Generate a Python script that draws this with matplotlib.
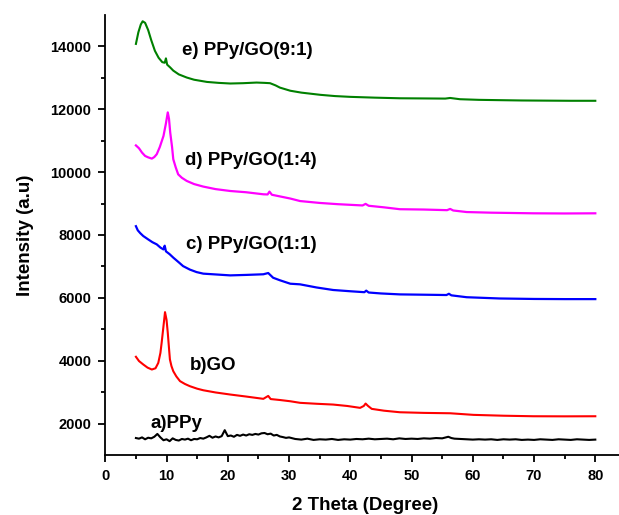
import matplotlib
matplotlib.use("Agg")
import matplotlib.pyplot as plt
from matplotlib.ticker import MultipleLocator

plt.rcParams["font.family"] = ["Liberation Sans", "DejaVu Sans"]
plt.rcParams["font.weight"] = "bold"

# a) PPy
ppy_x = [5.0, 5.5, 6.0, 6.5, 7.0, 7.5, 8.0, 8.5, 9.0, 9.5, 10.0, 10.5, 11.0, 11.5, 12.0,
         12.5, 13.0, 13.5, 14.0, 14.5, 15.0, 15.5, 16.0, 16.5, 17.0, 17.5, 18.0, 18.5,
         19.0, 19.5, 20.0, 20.5, 21.0, 21.5, 22.0, 22.5, 23.0, 23.5, 24.0, 24.5, 25.0,
         25.5, 26.0, 26.5, 27.0, 27.5, 28.0, 28.5, 29.0, 29.5, 30.0, 31, 32, 33, 34, 35,
         36, 37, 38, 39, 40, 41, 42, 43, 44, 45, 46, 47, 48, 49, 50, 51, 52, 53, 54, 55,
         56, 56.5, 57, 58, 59, 60, 61, 62, 63, 64, 65, 66, 67, 68, 69, 70, 71, 72, 73,
         74, 75, 76, 77, 78, 79, 80]
ppy_y = [1540, 1520, 1560, 1500, 1550, 1530, 1580, 1670, 1560, 1470, 1500, 1440, 1530,
         1480, 1460, 1510, 1490, 1520, 1470, 1510, 1500, 1540, 1520, 1560, 1610, 1550,
         1590, 1560, 1600, 1790, 1600, 1620, 1580, 1640, 1610, 1650, 1620, 1660, 1640,
         1670, 1650, 1690, 1700, 1660, 1680, 1620, 1640, 1590, 1570, 1545, 1560, 1510,
         1490, 1520, 1480, 1500, 1490, 1510, 1480, 1500, 1490, 1510, 1500, 1520, 1500,
         1510, 1520, 1500, 1530, 1510, 1520, 1510, 1530, 1520, 1540, 1530, 1580, 1540,
         1520, 1510, 1500, 1490, 1500, 1490, 1500, 1480, 1500, 1490, 1500, 1480, 1490,
         1480, 1500, 1490, 1480, 1500, 1490, 1480, 1500, 1490, 1480, 1490]

# b) GO
go_x = [5.0, 5.5, 6.2, 6.9, 7.6, 8.2, 8.65, 9.0, 9.2, 9.5, 9.75, 10.0, 10.2, 10.4, 10.55,
        10.8, 11.1, 11.6, 12.2, 13.0, 13.8, 15.0, 16.0, 18.0, 20.4, 23.0, 25.8, 26.6,
        27.0, 28.5, 30.2, 31.8, 34.5, 37.2, 39.5, 41.6, 42.2, 42.5, 42.9, 43.5, 45.5,
        48.1, 52.0, 56.3, 60.1, 65.0, 69.9, 75.0, 80.0]
go_y = [4125, 3990, 3880, 3780, 3720, 3760, 3930, 4250, 4570, 5100, 5545, 5300, 4890,
        4400, 4040, 3830, 3666, 3500, 3350, 3260, 3190, 3110, 3060, 2990, 2924, 2860,
        2787, 2880, 2780, 2750, 2710, 2660, 2630, 2605, 2560, 2500, 2560, 2637, 2560,
        2468, 2410, 2360, 2340, 2328, 2277, 2250, 2233, 2230, 2233]

# c) PPy/GO(1:1)
c11_x = [5.0, 5.3, 5.7, 6.2, 7.0, 7.7, 8.4, 9.0, 9.5, 9.7, 9.9, 10.5, 11.1, 12.0, 12.7,
         13.8, 14.9, 16.0, 17.6, 20.4, 23.0, 25.8, 26.6, 27.4, 28.5, 30.2, 31.8, 34.5,
         37.2, 40.0, 42.3, 42.6, 43.0, 45.0, 48.1, 52.0, 55.7, 56.1, 56.5, 59.0, 64.4,
         70.0, 75.0, 80.0]
c11_y = [8280, 8150, 8060, 7967, 7860, 7770, 7702, 7600, 7540, 7660, 7480, 7390, 7280,
         7130, 7010, 6900, 6820, 6770, 6750, 6715, 6730, 6750, 6790, 6640, 6560, 6450,
         6430, 6330, 6250, 6210, 6180, 6230, 6170, 6140, 6110, 6100, 6090, 6130, 6080,
         6020, 5980, 5965, 5960, 5960]

# d) PPy/GO(1:4)
d14_x = [5.0, 5.5, 6.0, 6.5, 7.0, 7.6, 8.0, 8.4, 8.9, 9.5, 9.9, 10.2, 10.4, 10.6, 10.9,
         11.1, 11.5, 11.9, 12.5, 13.3, 14.5, 16.0, 18.0, 20.4, 23.0, 25.8, 26.5, 26.8,
         27.2, 30.2, 31.8, 35.0, 38.0, 42.0, 42.5, 43.0, 45.5, 48.1, 52.0, 55.8, 56.3,
         56.8, 59.0, 63.0, 69.9, 75.0, 80.0]
d14_y = [10850, 10760, 10620, 10515, 10470, 10430, 10480, 10570, 10800, 11150, 11550,
         11900, 11700, 11260, 10800, 10410, 10150, 9930, 9820, 9720, 9620, 9540, 9460,
         9400, 9360, 9295, 9290, 9380, 9280, 9160, 9080, 9020, 8980, 8940, 8990, 8930,
         8880, 8820, 8810, 8790, 8830, 8780, 8730, 8710, 8690, 8685, 8690]

# e) PPy/GO(9:1)
e91_x = [5.0, 5.4, 5.8, 6.1, 6.5, 7.0, 7.5, 8.1, 8.7, 9.3, 9.7, 9.9, 10.1, 10.6, 11.1,
         12.0, 13.3, 14.5, 16.6, 18.5, 20.4, 22.5, 24.7, 26.0, 26.9, 27.8, 28.5, 30.2,
         32.0, 35.1, 37.5, 40.0, 44.0, 48.1, 52.0, 55.5, 56.3, 57.9, 61.0, 64.4, 68.0,
         72.0, 76.0, 80.0]
e91_y = [14080, 14450, 14700, 14800, 14750, 14520, 14200, 13860, 13640, 13500, 13480,
         13620, 13420, 13330, 13230, 13110, 13010, 12940, 12870, 12840, 12820, 12830,
         12850, 12840, 12830, 12760, 12690, 12590, 12530, 12460, 12420, 12395, 12370,
         12350, 12345, 12340, 12360, 12320, 12300, 12290, 12280, 12275, 12270, 12270]

fig = plt.figure(figsize=(6.19, 5.15), dpi=100)
ax = fig.add_axes([0.1701, 0.1165, 0.8411, 0.8544])

ax.plot(ppy_x, ppy_y, color="black", lw=1.5)
ax.plot(go_x, go_y, color="#ff0000", lw=1.5)
ax.plot(c11_x, c11_y, color="#0000ff", lw=1.6)
ax.plot(d14_x, d14_y, color="#ff00ff", lw=1.6)
ax.plot(e91_x, e91_y, color="#008000", lw=1.5)

lab = dict(fontsize=13.5, fontweight="bold", va="center", ha="left")
ax.text(12.5, 13860, "e) PPy/GO(9:1)", **lab)
ax.text(13.0, 10360, "d) PPy/GO(1:4)", **lab)
ax.text(13.1, 7700, "c) PPy/GO(1:1)", **lab)
ax.text(13.8, 3850, "b)GO", **lab)
ax.text(7.4, 2000, "a)PPy", **lab)

ax.set_xlim(0, 85)
ax.set_ylim(1000, 15000)
ax.set_xticks(range(0, 81, 10))
ax.xaxis.set_minor_locator(MultipleLocator(5))
ax.set_yticks(range(2000, 14001, 2000))
ax.set_yticks(range(3000, 14001, 2000), minor=True)

for s in ["top", "right"]:
    ax.spines[s].set_visible(False)
for s in ["left", "bottom"]:
    ax.spines[s].set_linewidth(1.3)

ax.tick_params(which="major", direction="out", length=5, width=1.3,
               labelsize=10.5, pad=5)
ax.tick_params(which="minor", direction="out", length=3, width=1.3)
for t in ax.get_xticklabels() + ax.get_yticklabels():
    t.set_fontweight("bold")

ax.set_xlabel("2 Theta (Degree)", fontsize=13.5, fontweight="bold", labelpad=10)
ax.set_ylabel("Intensity (a.u)", fontsize=13.5, fontweight="bold", labelpad=12)

fig.savefig("out.png", dpi=100)
